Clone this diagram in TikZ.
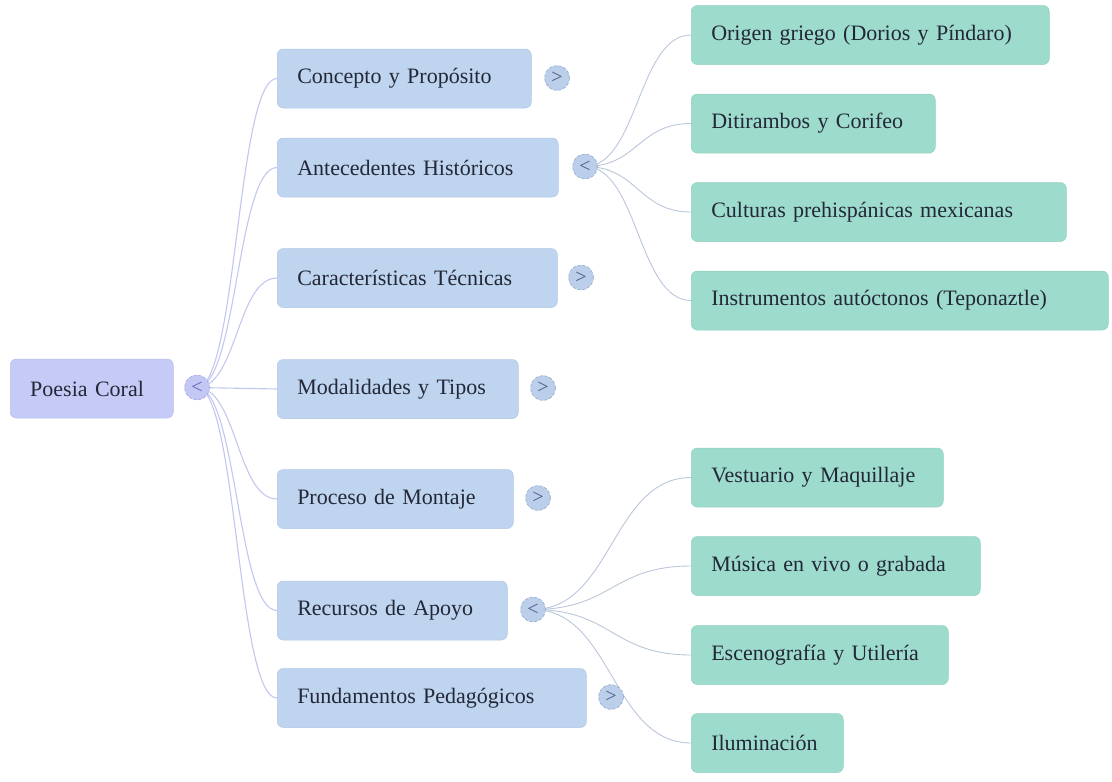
\documentclass[tikz,border=0pt]{standalone}
\usepackage{fontspec}
\setmainfont{Liberation Serif}
\usetikzlibrary{backgrounds}
\definecolor{rootfill}{HTML}{C6CAF6}
\definecolor{rootline}{HTML}{B9BEEE}
\definecolor{lonefill}{HTML}{BFD4EE}
\definecolor{loneline}{HTML}{B0C7E6}
\definecolor{ltwofill}{HTML}{9DDBCC}
\definecolor{ltwoline}{HTML}{90D2C2}
\definecolor{txt}{HTML}{232838}
\definecolor{togfill}{HTML}{BBCFEA}
\definecolor{togline}{HTML}{93AACF}
\definecolor{togtxt}{HTML}{4A5A82}
\definecolor{rtogfill}{HTML}{C3C7F4}
\definecolor{rtogline}{HTML}{A3A8E6}
\definecolor{rtogtxt}{HTML}{5E63B8}
\definecolor{connroot}{HTML}{C2C7EF}
\definecolor{conn}{HTML}{BAC6DA}
\begin{document}
\begin{tikzpicture}[x=1pt,y=-1pt,
  box/.style={rounded corners=6pt, anchor=west, minimum height=59pt, inner xsep=20pt, inner ysep=0pt, align=left, font=\fontsize{22}{26}\selectfont, text=txt},
  rootbox/.style={box, fill=rootfill, draw=rootline, line width=0.5pt},
  onebox/.style={box, fill=lonefill, draw=loneline, line width=0.5pt},
  twobox/.style={box, fill=ltwofill, draw=ltwoline, line width=0.5pt},
  tog/.style={circle, minimum size=25pt, inner sep=0pt, fill=togfill, draw=togline, densely dashed, line width=0.6pt, text=togtxt, font=\fontsize{20}{20}\selectfont},
  rtog/.style={tog, fill=rtogfill, draw=rtogline, text=rtogtxt},
  rootconn/.style={draw=connroot, line width=1.1pt},
  subconn/.style={draw=conn, line width=0.9pt}
]
\useasboundingbox (0,0) rectangle (1112,782);

% root
\node[rootbox, text width=123pt] (root) at (10,388.5) {Poesia Coral};
\node[rtog] (troot) at (197,387.5) {<};

% level 1
\node[onebox, text width=214pt] (concept) at (277,78.5) {Concepto y Propósito};
\node[onebox, text width=241pt] (antec) at (277,167.5) {Antecedentes Históricos};
\node[onebox, text width=240pt] (caract) at (277,278) {Características Técnicas};
\node[onebox, text width=201pt] (modal) at (277,389) {Modalidades y Tipos};
\node[onebox, text width=196pt] (proceso) at (277,499) {Proceso de Montaje};
\node[onebox, text width=190pt] (recursos) at (277,610.5) {Recursos de Apoyo};
\node[onebox, text width=269pt] (fundam) at (277,698) {Fundamentos Pedagógicos};

\node[tog] (tconcept) at (557,78) {>};
\node[tog] (tantec) at (585,166.5) {<};
\node[tog] (tcaract) at (581,277.5) {>};
\node[tog] (tmodal) at (543,388) {>};
\node[tog] (tproceso) at (538,498) {>};
\node[tog] (trecursos) at (533,609.5) {<};
\node[tog] (tfundam) at (611,697) {>};

% level 2
\node[twobox, text width=318pt] (origen) at (691,35) {Origen griego (Dorios y Píndaro)};
\node[twobox, text width=204pt] (diti) at (691,123.5) {Ditirambos y Corifeo};
\node[twobox, text width=335pt] (cult) at (691,212) {Culturas prehispánicas mexicanas};
\node[twobox, text width=377pt] (instr) at (691,300.5) {Instrumentos autóctonos (Teponaztle)};
\node[twobox, text width=212pt] (vest) at (691,477.5) {Vestuario y Maquillaje};
\node[twobox, text width=249pt] (musica) at (691,566) {Música en vivo o grabada};
\node[twobox, text width=217pt] (esceno) at (691,655) {Escenografía y Utilería};
\node[twobox, text width=112pt] (ilum) at (691,743) {Iluminación};

\begin{pgfonlayer}{background}
  \foreach \n in {concept,antec,caract,modal,proceso,recursos,fundam}
    \draw[rootconn] (troot.center) .. controls +(40,0) and +(-40,0) .. (\n.west);
  \foreach \n in {origen,diti,cult,instr}
    \draw[subconn] (tantec.center) .. controls +(53,0) and +(-53,0) .. (\n.west);
  \foreach \n in {vest,musica,esceno,ilum}
    \draw[subconn] (trecursos.center) .. controls +(79,0) and +(-79,0) .. (\n.west);
\end{pgfonlayer}
\end{tikzpicture}
\end{document}
